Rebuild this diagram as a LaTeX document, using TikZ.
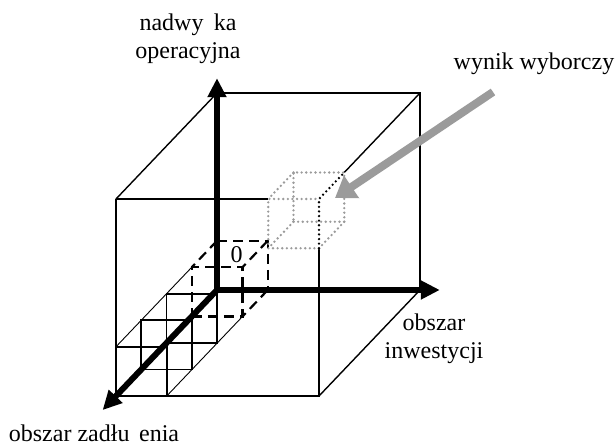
\documentclass[tikz,border=0pt]{standalone}
\usepackage{fontspec}
\setmainfont{Liberation Serif}
\usetikzlibrary{arrows.meta}
\definecolor{resultgray}{HTML}{9B9B9B}

\begin{document}
\begin{tikzpicture}[
    x={(25.375pt,0pt)}, y={(0pt,24.625pt)}, z={(-12.625pt,-13.25pt)},
    every node/.style={font=\fontsize{12}{14}\selectfont, inner sep=0pt},
    axis/.style={line width=3pt, -{Triangle[length=9.5pt, width=9pt]}},
    edge/.style={line width=1.4pt},
    thinedge/.style={line width=0.7pt},
    cell/.style={line width=0.9pt},
    guide/.style={line width=0.45pt},
    origincell/.style={line width=1.1pt, dash pattern=on 5pt off 3pt},
    blackdots/.style={line width=1.3pt, line cap=round, dash pattern=on 0pt off 2.3pt},
    resultcell/.style={blackdots, resultgray},
    resultarrow/.style={resultgray, line width=4pt, -{Triangle[length=10pt, width=13pt]}},
  ]
  \useasboundingbox (-108.5pt,-77pt) rectangle (199pt,145pt);

  % Axis end points
  \coordinate (O)    at (0,0,0);
  \coordinate (xtip) at (4.39,0,0);
  \coordinate (ytip) at (0,4.3,0);
  \coordinate (ztip) at (0,0,4.53);

  % Row of cells along the debt axis
  \foreach \k in {2,3,4}
    \draw[cell] (0,0,\k) rectangle (1,1,\k);
  \draw[guide] (0,1,1) -- (0,1,4);
  \draw[guide] (1,0,1) -- (1,0,4);

  % Big cube
  \draw[edge] (0,4,0) -- (4,4,0) -- (4,0,0);
  \draw[edge] (4,3,4) -- (4,0,4) -- (0,0,4) -- (0,4,4);
  \draw[thinedge] (0,4,4) -- (3,4,4);
  \draw[thinedge] (0,4,0) -- (0,4,4);
  \draw[thinedge] (4,4,0) -- (4,4,3);
  \draw[thinedge] (4,0,0) -- (4,0,4);

  % Axes
  \draw[axis] (O) -- (ztip);
  \draw[axis] (O) -- (ytip);
  \draw[axis] (O) -- (xtip);

  % Origin cell
  \draw[origincell] (0,1,0) -- (1,1,0) -- (1,0,0);
  \draw[origincell] (0,1,0) -- (0,1,1);
  \draw[origincell] (1,1,0) -- (1,1,1);
  \draw[origincell] (1,0,0) -- (1,0,1);
  \draw[origincell] (0,0,1) -- (1,0,1) -- (1,1,1) -- (0,1,1) -- cycle;
  \node (zero) at (9.8pt,17.6pt) {0};

  % Result cell
  \draw[resultcell] (3,3,3) -- (4,3,3) -- (4,4,3) -- (3,4,3) -- cycle;
  \draw[resultcell] (4,3,4) -- (3,3,4) -- (3,4,4) -- (4,4,4);
  \draw[resultcell] (3,3,3) -- (3,3,4);
  \draw[resultcell] (4,3,3) -- (4,3,4);
  \draw[resultcell] (3,4,3) -- (3,4,4);
  \draw[blackdots] (4,3,4) -- (4,4,4) -- (4,4,3);

  % Labels
  \node (surplus) [align=center] at (-14.5pt,125.8pt) {nadwy\hspace{0.43em}ka\\operacyjna};
  \node (result) [anchor=base] at (158.5pt,110pt) {wynik wyborczy};
  \node (invest) [align=center] at (108.5pt,-24.2pt) {obszar\\inwestycji};
  \node (debt) [anchor=base] at (-61.5pt,-75.5pt) {obszar zadłu\hspace{0.4em}enia};

  % Pointer to the result
  \coordinate (resulttail) at (138pt,99pt);
  \coordinate (resulttip)  at (59pt,46pt);
  \draw[resultarrow] (resulttail) -- (resulttip);
\end{tikzpicture}
\end{document}
